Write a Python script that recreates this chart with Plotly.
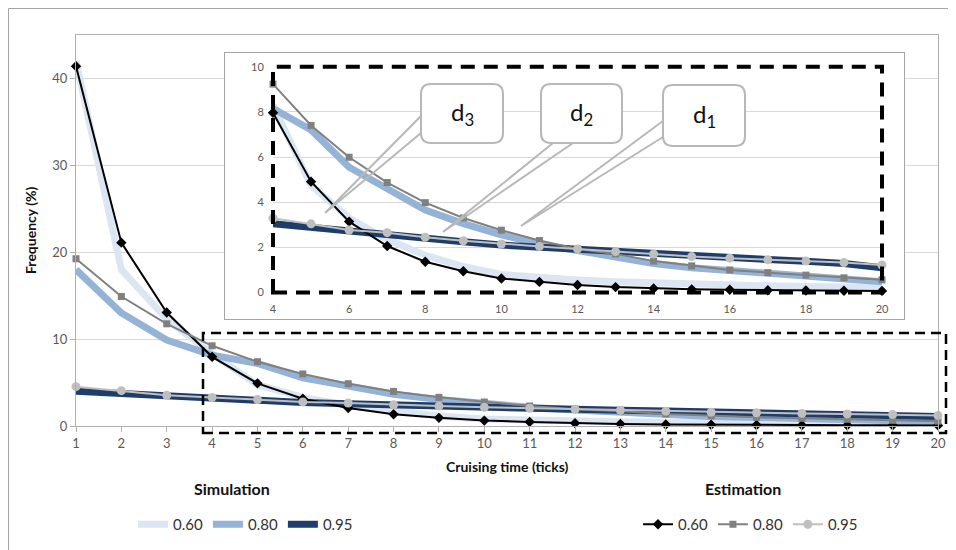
import plotly.graph_objects as go

# ---------------- data ----------------
ticks = list(range(1, 21))
sim_labels = ["0.60", "0.80", "0.95"]
est_labels = ["0.60", "0.80", "0.95"]

sim_060 = [42.0, 18.0, 12.3, 8.3, 4.75, 3.3, 2.35, 1.65, 1.15, 0.8, 0.65, 0.55, 0.48, 0.42, 0.37, 0.33, 0.3, 0.27, 0.25, 0.22]
sim_080 = [18.0, 13.0, 9.9, 8.15, 7.2, 5.55, 4.6, 3.65, 3.05, 2.55, 2.15, 1.85, 1.55, 1.28, 1.1, 0.98, 0.85, 0.73, 0.62, 0.48]
sim_095 = [4.0, 3.75, 3.45, 3.05, 2.88, 2.7, 2.55, 2.4, 2.25, 2.1, 2.0, 1.9, 1.8, 1.72, 1.63, 1.55, 1.46, 1.38, 1.28, 1.1]

est_060 = [41.4, 21.1, 13.06, 7.96, 4.91, 3.14, 2.06, 1.36, 0.94, 0.62, 0.47, 0.33, 0.24, 0.18, 0.14, 0.12, 0.1, 0.09, 0.08, 0.07]
est_080 = [19.25, 14.9, 11.76, 9.23, 7.40, 5.99, 4.87, 3.98, 3.3, 2.76, 2.3, 1.93, 1.71, 1.39, 1.18, 1.0, 0.88, 0.77, 0.65, 0.56]
est_095 = [4.53, 4.07, 3.53, 3.29, 3.04, 2.77, 2.65, 2.45, 2.29, 2.15, 2.04, 1.93, 1.81, 1.71, 1.59, 1.52, 1.45, 1.39, 1.33, 1.22]

inset_start = 4  # inset shows ticks 4..20
callout_labels = ["d<sub>3</sub>", "d<sub>2</sub>", "d<sub>1</sub>"]

# ---------------- styling ----------------
OFF = 8                      # page body margin in the browser
W, H = 956 - OFF, 550 - OFF
ML, MT = 76 - OFF, 35 - OFF  # plot area left/top (figure px)
MR = W - (938 - OFF)
MB = H - (426 - OFF)
PW = W - ML - MR
PH = H - MT - MB
FONT = "Lato"
TICKC = "#595959"

def fx(px):   # page px -> paper x
    return (px - OFF - ML) / PW

def fy(py):   # page px -> paper y
    return (H - MB - (py - OFF)) / PH

sim_colors = ["#dce6f2", "#95b3d7", "#1f3d6b"]
est_colors = ["#000000", "#808080", "#bfbfbf"]
est_symbols = ["diamond", "square", "circle"]
est_sizes = [8, 7, 9]

sims = [sim_060, sim_080, sim_095]
ests = [est_060, est_080, est_095]

fig = go.Figure()

# main chart traces
for lab, ys, c in zip(sim_labels, sims, sim_colors):
    fig.add_trace(go.Scatter(x=ticks, y=ys, mode="lines", name=lab,
                             line=dict(color=c, width=7), legend="legend",
                             cliponaxis=False, showlegend=True))
for lab, ys, c, s, sz in zip(est_labels, ests, est_colors, est_symbols, est_sizes):
    fig.add_trace(go.Scatter(x=ticks, y=ys, mode="lines+markers", name=lab,
                             line=dict(color=c, width=2),
                             marker=dict(symbol=s, size=sz, color=c),
                             legend="legend2", cliponaxis=False, showlegend=True))

# empty trace to create the inset frame subplot (x2/y2)
fig.add_trace(go.Scatter(x=[None], y=[None], xaxis="x2", yaxis="y2",
                         showlegend=False, hoverinfo="skip"))

# inset traces (x3/y3)
i0 = ticks.index(inset_start)
for lab, ys, c in zip(sim_labels, sims, sim_colors):
    fig.add_trace(go.Scatter(x=ticks[i0:], y=ys[i0:], mode="lines",
                             line=dict(color=c, width=7), xaxis="x3", yaxis="y3",
                             cliponaxis=False, showlegend=False))
for lab, ys, c, s, sz in zip(est_labels, ests, est_colors, est_symbols, est_sizes):
    fig.add_trace(go.Scatter(x=ticks[i0:], y=ys[i0:], mode="lines+markers",
                             line=dict(color=c, width=2),
                             marker=dict(symbol=s, size=sz, color=c),
                             xaxis="x3", yaxis="y3", cliponaxis=False, showlegend=False))

shapes = []
# outer chart frame
shapes.append(dict(type="rect", xref="paper", yref="paper",
                   x0=fx(8.5), x1=fx(990), y0=fy(590), y1=fy(8.5),
                   line=dict(color="#a6a6a6", width=1), layer="below"))
# inset dashed frame
shapes.append(dict(type="rect", xref="paper", yref="paper",
                   x0=fx(273), x1=fx(882), y0=fy(292.5), y1=fy(66.7),
                   line=dict(color="black", width=4, dash="14px,9px"), layer="above"))
# main dashed zoom region
shapes.append(dict(type="rect", xref="paper", yref="paper",
                   x0=fx(203), x1=fx(946), y0=fy(433), y1=fy(333),
                   line=dict(color="black", width=2.5, dash="10px,6px"), layer="above"))

# callouts
def P(x, y):
    return f"{fx(x):.5f},{fy(y):.5f}"

def rounded_rect(x0, y0, x1, y1, r):
    return (f"M {P(x0 + r, y0)} L {P(x1 - r, y0)} Q {P(x1, y0)} {P(x1, y0 + r)} "
            f"L {P(x1, y1 - r)} Q {P(x1, y1)} {P(x1 - r, y1)} "
            f"L {P(x0 + r, y1)} Q {P(x0, y1)} {P(x0, y1 - r)} "
            f"L {P(x0, y0 + r)} Q {P(x0, y0)} {P(x0 + r, y0)} Z")

def wedge(a, tip, b):
    return f"M {P(*a)} L {P(*tip)} L {P(*b)}"

boxes = [(421, 84, 503, 143), (541, 84, 622, 143), (663, 85, 745, 146)]
wedges = [((421, 116), (325, 213), (421, 133)),
          ((553, 143), (443, 232), (573, 143)),
          ((663, 121), (521, 226), (663, 137))]
GC = "#b8b8b8"
for (a, t, b) in wedges:
    shapes.append(dict(type="path", xref="paper", yref="paper", path=wedge(a, t, b),
                       line=dict(color=GC, width=2), layer="above"))
for (x0, y0, x1, y1) in boxes:
    shapes.append(dict(type="path", xref="paper", yref="paper",
                       path=rounded_rect(x0, y0, x1, y1, 10),
                       fillcolor="white", line=dict(color=GC, width=2), layer="above"))

annotations = []
for (x0, y0, x1, y1), lab in zip(boxes, callout_labels):
    annotations.append(dict(xref="paper", yref="paper", x=fx((x0 + x1) / 2), y=fy((y0 + y1) / 2),
                            text=lab, showarrow=False, font=dict(family=FONT, size=24, color="#111111"),
                            xanchor="center", yanchor="middle"))
annotations += [
    dict(xref="paper", yref="paper", x=fx(30), y=fy(230), text="<b>Frequency (%)</b>",
         textangle=-90, showarrow=False, xanchor="center", yanchor="middle",
         font=dict(family=FONT, size=14, color="#111111")),
    dict(xref="paper", yref="paper", x=fx(507), y=fy(466), text="<b>Cruising time (ticks)</b>",
         showarrow=False, xanchor="center", yanchor="middle",
         font=dict(family=FONT, size=14, color="#111111")),
    dict(xref="paper", yref="paper", x=fx(232), y=fy(488), text="<b>Simulation</b>",
         showarrow=False, xanchor="center", yanchor="middle",
         font=dict(family=FONT, size=16, color="#111111")),
    dict(xref="paper", yref="paper", x=fx(743), y=fy(488), text="<b>Estimation</b>",
         showarrow=False, xanchor="center", yanchor="middle",
         font=dict(family=FONT, size=16, color="#111111")),
]

fig.update_layout(
    width=W, height=H,
    margin=dict(l=ML, r=MR, t=MT, b=MB, autoexpand=False),
    paper_bgcolor="white", plot_bgcolor="white",
    font=dict(family=FONT, color=TICKC),
    xaxis=dict(range=[1, 20], tickvals=ticks, showgrid=False, zeroline=False,
               showline=True, linecolor="#b0b0b0", mirror=True,
               ticks="outside", ticklen=5, tickcolor="#b0b0b0",
               tickfont=dict(size=13, color=TICKC)),
    yaxis=dict(range=[0, 45], tickvals=[0, 10, 20, 30, 40], showgrid=True,
               gridcolor="#d9d9d9", zeroline=False,
               showline=True, linecolor="#b0b0b0", mirror=True,
               ticks="outside", ticklen=5, tickcolor="#b0b0b0",
               tickfont=dict(size=13, color=TICKC)),
    # inset frame subplot
    xaxis2=dict(domain=[fx(225), fx(904)], anchor="y2", range=[0, 1],
                showgrid=False, zeroline=False, showticklabels=False,
                showline=True, linecolor="#a6a6a6", mirror=True, ticks=""),
    yaxis2=dict(domain=[fy(319), fy(53)], anchor="x2", range=[0, 1],
                showgrid=False, zeroline=False, showticklabels=False,
                showline=True, linecolor="#a6a6a6", mirror=True, ticks=""),
    # inset data subplot
    xaxis3=dict(domain=[fx(273), fx(882)], anchor="y3", range=[4, 20],
                tickvals=list(range(4, 21, 2)), showgrid=False, zeroline=False,
                showline=False, ticks="outside", ticklen=6, tickcolor="rgba(0,0,0,0)",
                tickfont=dict(size=11, color=TICKC)),
    yaxis3=dict(domain=[fy(292.5), fy(66.7)], anchor="x3", range=[0, 10],
                tickvals=[0, 2, 4, 6, 8, 10], showgrid=True, gridcolor="#d9d9d9",
                zeroline=False, showline=False, ticks="outside", ticklen=6,
                tickcolor="rgba(0,0,0,0)", tickfont=dict(size=11, color=TICKC)),
    legend=dict(orientation="h", x=fx(133), y=fy(508), xanchor="left", yanchor="top",
                font=dict(family=FONT, size=15, color="#333333"), bgcolor="rgba(0,0,0,0)",
                itemclick=False),
    legend2=dict(orientation="h", x=fx(638), y=fy(508), xanchor="left", yanchor="top",
                 font=dict(family=FONT, size=15, color="#333333"), bgcolor="rgba(0,0,0,0)",
                 itemclick=False),
    shapes=shapes,
    annotations=annotations,
)

fig.write_html("out.html")
